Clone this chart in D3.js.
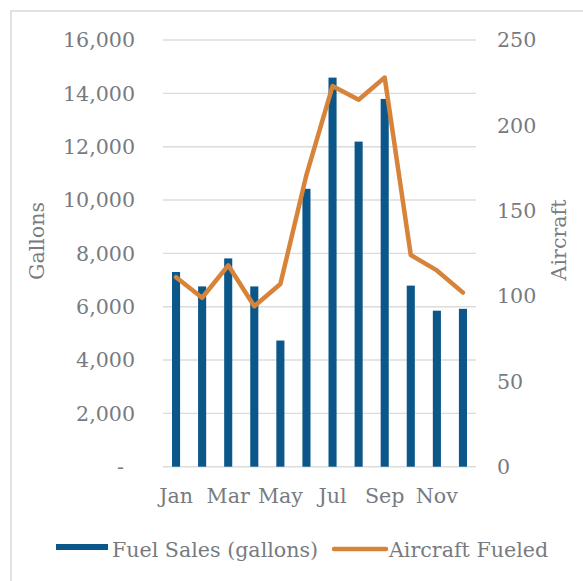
<!DOCTYPE html>
<html><head><meta charset="utf-8">
<script src="https://cdn.jsdelivr.net/npm/d3@7"></script>
<style>body{margin:0;background:#fff}svg{display:block}text{font-family:"DejaVu Serif",serif;fill:#777b81}</style>
</head><body><svg id="c" width="583" height="581"></svg>
<script>
const months = ["Jan","Feb","Mar","Apr","May","Jun","Jul","Aug","Sep","Oct","Nov","Dec"];
const fuelGallons = [7300,6760,7810,6760,4730,10420,14590,12190,13790,6790,5850,5920];
const aircraftFueled = [111,99,118,94,107,171,223,215,228,124,115,102];
const leftTicks = [0,2000,4000,6000,8000,10000,12000,14000,16000];
const rightTicks = [0,50,100,150,200,250];
const shownMonths = ["Jan","Mar","May","Jul","Sep","Nov"];

const svg = d3.select("#c");
const blue = "#0b5789", orange = "#d7833a", grid = "#dcdcdc";
svg.append("rect").attr("x",11).attr("y",11).attr("width",600).attr("height",600)
  .attr("fill","none").attr("stroke","#d9d9d9").attr("stroke-width",1.5);

const L = 163, R = 476, T = 40, B = 466.7;
const x = d3.scaleBand().domain(months).range([L,R]).paddingInner(0.69).paddingOuter(0.345);
const xc = d3.scalePoint().domain(months).range([L,R]).padding(0.5);
const yL = d3.scaleLinear().domain([0,16000]).range([B,T]);
const yR = d3.scaleLinear().domain([0,250]).range([B,T]);

svg.append("g").selectAll("line").data(leftTicks).join("line")
  .attr("x1",L).attr("x2",R).attr("y1",d=>yL(d)).attr("y2",d=>yL(d))
  .attr("stroke",grid).attr("stroke-width",1.4);

svg.append("g").selectAll("rect").data(fuelGallons).join("rect")
  .attr("x",(d,i)=>x(months[i])).attr("width",x.bandwidth())
  .attr("y",d=>yL(d)).attr("height",d=>B-yL(d)).attr("fill",blue);

svg.append("path").datum(aircraftFueled)
  .attr("d",d3.line().x((d,i)=>xc(months[i])).y(d=>yR(d)))
  .attr("fill","none").attr("stroke",orange).attr("stroke-width",4.5)
  .attr("stroke-linejoin","round").attr("stroke-linecap","round");

const fs = 20.6;
svg.append("g").selectAll("text").data(leftTicks).join("text")
  .attr("x",d=>d===0?124:135).attr("y",d=>yL(d)).attr("dy","0.36em")
  .attr("text-anchor","end").attr("font-size",fs)
  .text(d=>d===0?"-":d3.format(",")(d));

svg.append("g").selectAll("text").data(rightTicks).join("text")
  .attr("x",497).attr("y",d=>yR(d)).attr("dy","0.36em")
  .attr("text-anchor","start").attr("font-size",fs).text(d=>d);

svg.append("g").selectAll("text").data(shownMonths).join("text")
  .attr("x",d=>xc(d)).attr("y",503).attr("text-anchor","middle").attr("font-size",fs).text(d=>d);

svg.append("text").attr("transform","translate(44,241) rotate(-90)")
  .attr("text-anchor","middle").attr("font-size",fs).text("Gallons");
svg.append("text").attr("transform","translate(566,240) rotate(-90)")
  .attr("text-anchor","middle").attr("font-size",fs).text("Aircraft");

const lg = svg.append("g");
lg.append("rect").attr("x",56).attr("y",544).attr("width",52).attr("height",6).attr("fill",blue);
lg.append("text").attr("x",112).attr("y",556.5).attr("font-size",fs).text("Fuel Sales (gallons)");
lg.append("line").attr("x1",334).attr("x2",386).attr("y1",549).attr("y2",549)
  .attr("stroke",orange).attr("stroke-width",4.5).attr("stroke-linecap","round");
lg.append("text").attr("x",389).attr("y",556.5).attr("font-size",fs).text("Aircraft Fueled");
</script></body></html>
